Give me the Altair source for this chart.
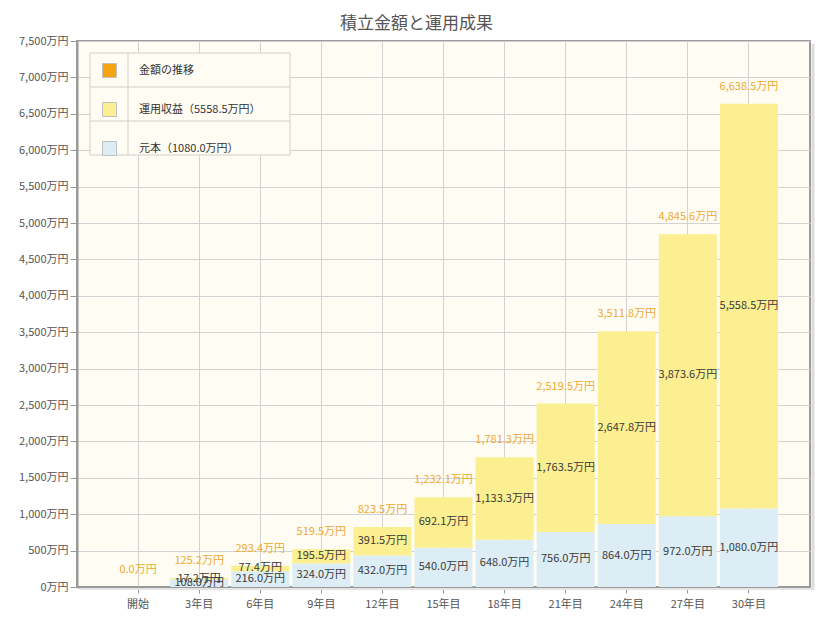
import altair as alt
import pandas as pd

# ---- data ----
categories = ["開始", "3年目", "6年目", "9年目", "12年目", "15年目", "18年目", "21年目", "24年目", "27年目", "30年目"]
principal = [0.0, 108.0, 216.0, 324.0, 432.0, 540.0, 648.0, 756.0, 864.0, 972.0, 1080.0]
gain = [0.0, 17.2, 77.4, 195.5, 391.5, 692.1, 1133.3, 1763.5, 2647.8, 3873.6, 5558.5]
total = [0.0, 125.2, 293.4, 519.5, 823.5, 1232.1, 1781.3, 2519.5, 3511.8, 4845.6, 6638.5]

series_names = ["金額の推移", f"運用収益（{gain[-1]:.1f}万円）", f"元本（{principal[-1]:.1f}万円）"]
series_colors = ["#f5a30f", "#fcef91", "#ddedf5"]
y_ticks = list(range(0, 7501, 500))

FONT = "Noto Sans CJK JP"

rows = []
for c, p, g in zip(categories, principal, gain):
    rows.append({"cat": c, "series": series_names[2], "value": p, "ord": 0, "mid": p / 2})
    rows.append({"cat": c, "series": series_names[1], "value": g, "ord": 1, "mid": p + g / 2})
seg = pd.DataFrame(rows)
tot = pd.DataFrame({"cat": categories, "total": total})
one = pd.DataFrame({"k": [0]})

x_axis = alt.Axis(
    title=None, labelAngle=0, grid=True, bandPosition=0.5, domain=True,
    domainColor="#999", domainWidth=2,
    tickColor="#999", tickSize=6, labelColor="#555", labelFontSize=11,
    labelPadding=5, labelFont=FONT,
)
x_scale = alt.Scale(paddingInner=0.05, paddingOuter=0.525)
y_axis = alt.Axis(
    title=None, values=y_ticks, labelExpr="format(datum.value, ',') + '万円'",
    grid=True, domain=True, domainColor="#999", domainWidth=2,
    tickColor="#999", tickSize=7, labelColor="#555",
    labelFontSize=11, labelPadding=2, labelFont=FONT, labelOverlap=False,
)
y_scale = alt.Scale(domain=[0, 7500], nice=False, zero=True)


def X():
    return alt.X("cat:N", sort=categories, scale=x_scale, axis=x_axis)


bars = alt.Chart(seg).mark_bar().encode(
    x=X(),
    y=alt.Y("value:Q", stack="zero", scale=y_scale, axis=y_axis),
    color=alt.Color(
        "series:N",
        scale=alt.Scale(domain=series_names, range=series_colors),
        legend=alt.Legend(
            orient="none", legendX=25, legendY=22, title=None, symbolType="square",
            symbolSize=196, symbolStrokeColor="#c0c0c0", symbolStrokeWidth=1,
            symbolOpacity=1, labelFontSize=11, labelColor="#333", labelFont=FONT,
            rowPadding=20, labelOffset=22, padding=0,
        ),
    ),
    order=alt.Order("ord:Q"),
)

seg_labels = alt.Chart(seg).transform_filter("datum.value > 0").transform_calculate(
    lbl="format(datum.value, ',.1f') + '万円'"
).mark_text(
    fontSize=11, color="#3a3a3a", baseline="middle", font=FONT
).encode(
    x=X(),
    y=alt.Y("mid:Q", stack=None, scale=y_scale, axis=y_axis),
    text="lbl:N",
)

tot_labels = alt.Chart(tot).transform_calculate(
    lbl="format(datum.total, ',.1f') + '万円'"
).mark_text(
    fontSize=11, color="#eea832", baseline="middle", dy=-17, font=FONT
).encode(
    x=X(),
    y=alt.Y("total:Q", stack=None, scale=y_scale, axis=y_axis),
    text="lbl:N",
)

# legend frame
frame = alt.Chart(one).mark_rect(fill="#fffdf3", stroke="#cfcfcf", strokeWidth=1).encode(
    x=alt.value(13), x2=alt.value(213), y=alt.value(12), y2=alt.value(114)
)
vsep = alt.Chart(one).mark_rule(color="#cfcfcf", strokeWidth=1).encode(
    x=alt.value(51), y=alt.value(12), y2=alt.value(114)
)
hsep1 = alt.Chart(one).mark_rule(color="#cfcfcf", strokeWidth=1).encode(
    x=alt.value(13), x2=alt.value(213), y=alt.value(46)
)
hsep2 = alt.Chart(one).mark_rule(color="#cfcfcf", strokeWidth=1).encode(
    x=alt.value(13), x2=alt.value(213), y=alt.value(80)
)
# soft shadow of the plot frame (right and bottom)
shadow_r = alt.Chart(one).mark_rule(color="#dcdcdc", strokeWidth=3).encode(
    x=alt.value(736), y=alt.value(3), y2=alt.value(549)
)
shadow_b = alt.Chart(one).mark_rule(color="#e4e4e4", strokeWidth=2).encode(
    x=alt.value(3), x2=alt.value(736), y=alt.value(548)
)

chart = alt.layer(
    shadow_r, shadow_b, bars, seg_labels, tot_labels, frame, vsep, hsep1, hsep2
).properties(
    width=733,
    height=546,
    background="white",
    title=alt.TitleParams(
        "積立金額と運用成果", fontSize=17, color="#555", fontWeight="normal",
        anchor="middle", dx=-27, offset=2, font=FONT,
    ),
    autosize=alt.AutoSizeParams(type="none"),
    padding={"left": 69, "top": 33, "right": 8, "bottom": 30},
).configure_view(
    fill="#fffdf3", stroke="#9a9a9a", strokeWidth=2
).configure_axis(
    gridColor="#d2d2d2", gridWidth=1
)

chart.save("out.html", embed_options={"renderer": "svg", "actions": False})
